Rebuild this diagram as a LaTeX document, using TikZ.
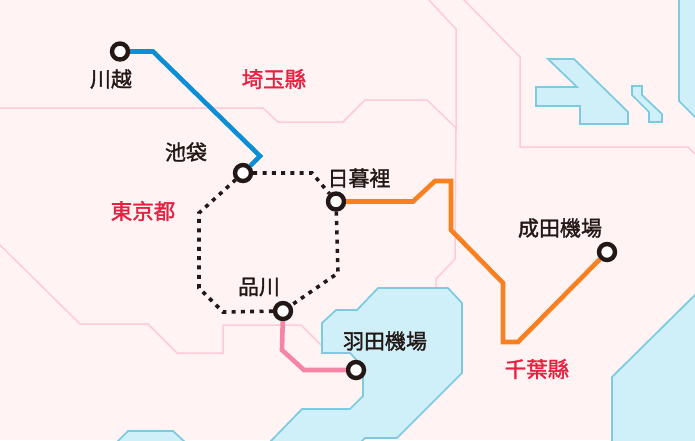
\documentclass[tikz,border=0pt]{standalone}
\usepackage{fontspec}
\newfontfamily\cjk[Script=CJK,FakeBold=1.6]{Noto Sans CJK TC}
\definecolor{landbg}{HTML}{FFF3F3}
\definecolor{borderpink}{HTML}{FFCBD8}
\definecolor{seafill}{HTML}{CFF0F8}
\definecolor{seaedge}{HTML}{7CCAE2}
\definecolor{stationdark}{HTML}{231815}
\definecolor{prefred}{HTML}{E8203F}
\definecolor{lineblue}{HTML}{0A8FD6}
\definecolor{lineorange}{HTML}{F98020}
\definecolor{linepink}{HTML}{F585A5}
\tikzset{
  border/.style={draw=borderpink,line width=1.5pt},
  sea/.style={fill=seafill,draw=seaedge,line width=1.7pt},
  station/.style={draw=stationdark,fill=white,circle,line width=4.4pt,minimum size=16pt,inner sep=0pt},
  stationname/.style={font=\cjk\fontsize{21}{22}\selectfont,text=stationdark,inner sep=0pt},
  prefname/.style={font=\cjk\fontsize{21.5}{22}\selectfont,text=prefred,inner sep=0pt},
  railway/.style={line width=4.6pt,line join=miter},
  loopline/.style={draw=stationdark,line width=3.6pt,dash pattern=on 4pt off 5.3pt},
}
\begin{document}
\begin{tikzpicture}[x=1pt,y=-1pt]
\clip (0,0) rectangle (695,440);
\fill[landbg] (0,0) rectangle (695,440);
% prefecture borders
\draw[border] (427,-2) -- (456,29) -- (456,132);
\draw[border] (462,-2) -- (520,57) -- (520,147) -- (688,147) -- (697,156);
\draw[border] (-2,108) -- (263,108) -- (278,122) -- (343,122) -- (365,100) -- (427,100) -- (456,128) -- (455,259) -- (436,279) -- (436,290);
\draw[border] (-2,243) -- (80,324) -- (148,324) -- (177,353) -- (223,353) -- (223,325) -- (301,325) -- (324,348);
% sea
\draw[sea] (378,288) -- (448,288) -- (462,303) -- (462,373) -- (397,438) -- (365,438) -- (358,445) -- (267,445) -- (302,409) -- (350,409) -- (363,396) -- (363,367) -- (350,353) -- (322,353) -- (322,323) -- (336,310) -- (357,310) -- cycle;
\draw[sea] (548,59) -- (574,59) -- (628,112) -- (628,124) -- (580,124) -- (580,106) -- (536,106) -- (536,87) -- (577,87) -- cycle;
\draw[sea] (632,86) -- (642,86) -- (642,95) -- (662,114) -- (662,122) -- (649,122) -- (649,112) -- (632,95) -- cycle;
\draw[sea] (679,-3) -- (679,101) -- (698,120) -- (698,-3) -- cycle;
\draw[sea] (698,292) -- (612,377) -- (612,443) -- (698,443) -- cycle;
\draw[sea] (116,443) -- (128,431) -- (173,431) -- (186,443) -- cycle;
% stations
\node[station] (kawagoe) at (120,51.5) {};
\node[station] (ikebukuro) at (243,173) {};
\node[station] (nippori) at (336,201.5) {};
\node[station] (shinagawa) at (283,311) {};
\node[station] (haneda) at (356,370) {};
\node[station] (narita) at (607,252) {};
% railways
\path[draw=lineblue,railway] (kawagoe) -- (153,51.5) -- (260,156) -- (ikebukuro);
\path[draw=lineorange,railway] (nippori) -- (413,201.5) -- (435,181) -- (451,181) -- (451,230) -- (503,283) -- (503,342) -- (518,342) -- (narita);
\path[draw=linepink,railway] (shinagawa) -- (282,350) -- (304,370) -- (haneda);
\path[loopline] (ikebukuro) -- (312,173) -- (nippori);
\path[loopline] (nippori) -- (338,273) -- (shinagawa);
\path[loopline] (shinagawa) -- (223,312) -- (199,288) -- (199,213) -- (ikebukuro);
% names
\node[stationname] (kawagoename) at (111,79) {川越};
\node[stationname] (ikebukuroname) at (186,152) {池袋};
\node[stationname] (nipporiname) at (359,178) {日暮裡};
\node[stationname] (shinagawaname) at (259,287) {品川};
\node[stationname] (hanedaname) at (385,341) {羽田機場};
\node[stationname] (naritaname) at (560,228) {成田機場};
\node[prefname] (saitama) at (274,79) {埼玉縣};
\node[prefname] (tokyo) at (143,211) {東京都};
\node[prefname] (chiba) at (537,369) {千葉縣};
\end{tikzpicture}
\end{document}
